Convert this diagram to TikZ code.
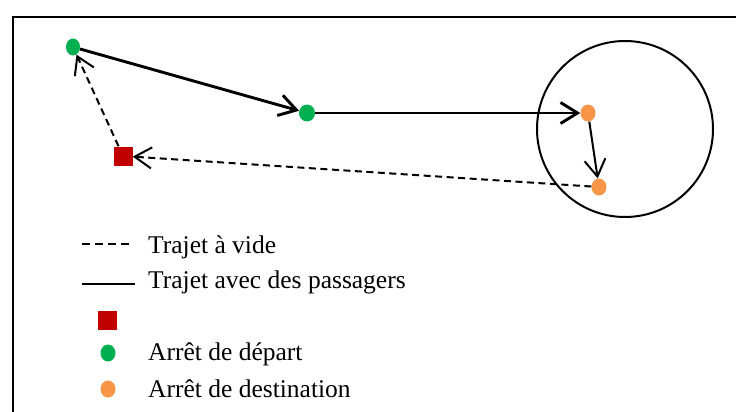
\documentclass[tikz,border=0pt]{standalone}
\usepackage{fontspec}
\setmainfont{Liberation Serif}
\usepackage{tikz}
\usetikzlibrary{arrows.meta, shapes.geometric}
\definecolor{departcolor}{HTML}{00B050}
\definecolor{destcolor}{HTML}{F79646}
\definecolor{depotcolor}{HTML}{C00000}

\begin{document}
\begin{tikzpicture}[x=1pt, y=-1pt,
    depart/.style={ellipse, fill=departcolor, minimum width=14pt, minimum height=17pt, inner sep=0pt},
    dest/.style={ellipse, fill=destcolor, minimum width=15pt, minimum height=17pt, inner sep=0pt},
    depot/.style={rectangle, fill=depotcolor, minimum size=19pt, inner sep=0pt},
    barb/.style={-{Straight Barb[length=17pt, width=21pt]}},
    plein/.style={barb, line width=2.9pt},
    fin/.style={barb, line width=2pt},
    vide/.style={barb, line width=2pt, dash pattern=on 7pt off 4.5pt},
    lbl/.style={font=\fontsize{25.5}{30}\selectfont, anchor=base west, inner sep=0pt}
]
    \useasboundingbox (0,0) rectangle (736,412);
    \clip (0,0) rectangle (736,412);
    % --- cadre ---
    \draw[line width=1.6pt] (13,17) rectangle (760,440);

    % --- zone de destination ---
    \node[circle, draw, line width=2pt, minimum size=176pt, inner sep=0pt] (zone) at (625,129) {};

    % --- arrets ---
    \node[depart] (d1) at (73,47) {};
    \node[depart, minimum width=16pt] (d2) at (307,113) {};
    \node[dest] (a1) at (588,113) {};
    \node[dest] (a2) at (599,187) {};
    \node[depot] (dep) at (123,156) {};

    % --- trajets ---
    \draw[plein] (d1) -- (d2);
    \draw[plein] (d2) -- (a1);
    \draw[fin] (a1) -- (a2);
    \draw[vide] (a2) -- (dep);
    \draw[vide] (dep) -- (d1);

    % --- legende ---
    \coordinate (v1) at (82,244);
    \coordinate (v2) at (131,244);
    \draw[line width=2pt, dash pattern=on 8pt off 5pt] (v1) -- (v2);
    \node[lbl] (lv) at (148,253) {Trajet à vide};
    \coordinate (p1) at (82,284);
    \coordinate (p2) at (135,284);
    \draw[line width=2pt] (p1) -- (p2);
    \node[lbl] (lp) at (148,288) {Trajet avec des passagers};
    \node[depot] (kdep) at (107,320) {};
    \node[depart, minimum width=15pt] (kd) at (108,353) {};
    \node[lbl] (ld) at (148,360) {Arrêt de départ};
    \node[dest] (ka) at (108,389) {};
    \node[lbl] (la) at (148,397) {Arrêt de destination};
\end{tikzpicture}
\end{document}
